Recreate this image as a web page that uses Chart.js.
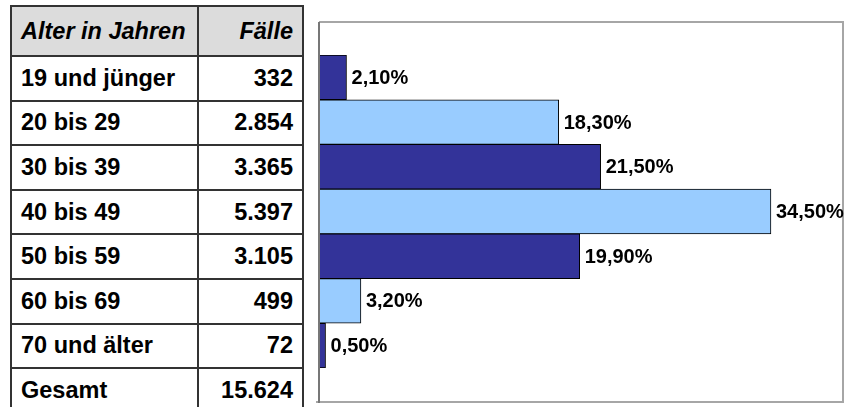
<!DOCTYPE html>
<html>
<head>
<meta charset="utf-8">
<script src="https://cdn.jsdelivr.net/npm/chart.js@4.4.0/dist/chart.umd.min.js"></script>
<style>
  body { margin: 0; background: #fff; font-family: "Liberation Sans", Arial, sans-serif; }
  #wrap { position: relative; width: 850px; height: 407px; overflow: hidden; }
  #tbl {
    position: absolute; left: 10px; top: 5px; width: 294px;
    border-collapse: collapse; font-weight: bold; font-size: 23.5px; color: #000;
  }
  #tbl td { border: 2px solid #333; padding: 0 9px; height: 42.6px; white-space: nowrap; }
  #tbl tr.head td { background: #dcdcdc; font-style: italic; height: 48px; }
  #tbl td.num { text-align: right; }
  #tbl td.lab { width: 167px; }
  #c { position: absolute; left: 305px; top: 0; }
</style>
</head>
<body>
<div id="wrap">
  <table id="tbl"></table>
  <canvas id="c" width="545" height="407"></canvas>
</div>
<script>
// age groups, number of cases, share in percent
var categories = ["19 und jünger", "20 bis 29", "30 bis 39", "40 bis 49", "50 bis 59", "60 bis 69", "70 und älter"];
var cases = [332, 2854, 3365, 5397, 3105, 499, 72];
var shares = [2.1, 18.3, 21.5, 34.5, 19.9, 3.2, 0.5];
var totalLabel = "Gesamt";
var headers = ["Alter in Jahren", "Fälle"];

var darkBar = '#333399';
var lightBar = '#99ccff';

function fmtNum(n) {
  return n.toString().replace(/\B(?=(\d{3})+(?!\d))/g, ".");
}
function fmtPct(v) {
  return v.toFixed(2).replace('.', ',') + '%';
}

// table on the left
var tbl = document.getElementById('tbl');
var html = '<tr class="head"><td class="lab">' + headers[0] + '</td><td class="num">' + headers[1] + '</td></tr>';
var total = 0;
for (var i = 0; i < categories.length; i++) {
  total += cases[i];
  html += '<tr><td class="lab">' + categories[i] + '</td><td class="num">' + fmtNum(cases[i]) + '</td></tr>';
}
html += '<tr><td class="lab">' + totalLabel + '</td><td class="num">' + fmtNum(total) + '</td></tr>';
tbl.innerHTML = html;

// plot frame reaches a bit above and below the bar rows
var frameTop = 33, frameBottom = 34;

var frame = {
  id: 'frame',
  afterDatasetsDraw: function (chart) {
    var a = chart.chartArea, ctx = chart.ctx;
    var top = a.top - frameTop, bottom = a.bottom + frameBottom;
    ctx.save();
    ctx.strokeStyle = '#a6a6a6';
    ctx.lineWidth = 2;
    ctx.beginPath();
    ctx.moveTo(a.left - 3, bottom);
    ctx.lineTo(a.right, bottom);
    ctx.lineTo(a.right, top);
    ctx.lineTo(a.left, top);
    ctx.stroke();
    ctx.strokeStyle = '#777';
    ctx.beginPath();
    ctx.moveTo(a.left, top);
    ctx.lineTo(a.left, bottom + 1);
    ctx.stroke();
    ctx.restore();
  }
};

var valueLabels = {
  id: 'valueLabels',
  afterDatasetsDraw: function (chart) {
    var ctx = chart.ctx;
    var meta = chart.getDatasetMeta(0);
    ctx.save();
    ctx.font = 'bold 20px "Liberation Sans", Arial, sans-serif';
    ctx.fillStyle = '#000';
    ctx.textBaseline = 'middle';
    ctx.textAlign = 'left';
    meta.data.forEach(function (bar, i) {
      ctx.fillText(fmtPct(shares[i]), bar.x + 5, bar.y + 1);
    });
    ctx.restore();
  }
};

new Chart(document.getElementById('c'), {
  type: 'bar',
  data: {
    labels: categories,
    datasets: [{
      data: shares,
      backgroundColor: shares.map(function (v, i) { return i % 2 ? lightBar : darkBar; }),
      borderColor: '#000',
      borderWidth: 1,
      borderSkipped: false,
      barPercentage: 1,
      categoryPercentage: 1
    }]
  },
  options: {
    responsive: false,
    animation: false,
    indexAxis: 'y',
    layout: { padding: { left: 14, right: 7, top: 55, bottom: 39 } },
    plugins: { legend: { display: false }, tooltip: { enabled: false } },
    scales: {
      x: { type: 'linear', min: 0, max: 40, display: false },
      y: { type: 'category', offset: true, display: false }
    }
  },
  plugins: [frame, valueLabels]
});
</script>
</body>
</html>
